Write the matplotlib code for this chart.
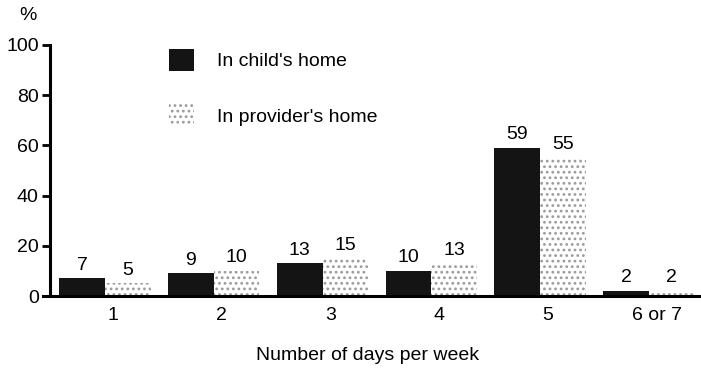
import numpy as np
import matplotlib.pyplot as plt
from matplotlib.patches import Patch

plt.rcParams['font.family'] = ['Liberation Sans', 'DejaVu Sans']
plt.rcParams['hatch.linewidth'] = 1.2

categories = ['1', '2', '3', '4', '5', '6 or 7']
childs_home = [7, 9, 13, 10, 59, 2]
providers_home = [5, 10, 15, 13, 55, 2]

fig = plt.figure(figsize=(7.01, 3.73), dpi=100)
ax = fig.add_axes([0.0713, 0.2064, 0.9273, 0.673])

x = np.arange(len(categories))
w = 0.42
ax.bar(x - w / 2, childs_home, w, color='#141414', edgecolor='#141414', lw=0)
ax.bar(x + w / 2, providers_home, w, color='white', edgecolor='#9a9a9a',
       hatch='...', lw=0)

# value labels above each bar
for xi, v in zip(x - w / 2, childs_home):
    ax.text(xi, v + 1.8, str(v), ha='center', va='bottom', fontsize=14)
for xi, v in zip(x + w / 2, providers_home):
    ax.text(xi, v + 1.8, str(v), ha='center', va='bottom', fontsize=14)

ax.set_xlim(-0.506, 5.47)
ax.set_ylim(0, 100)
ax.set_yticks([0, 20, 40, 60, 80, 100])
ax.set_xticks(x + 0.07)
ax.set_xticklabels(categories)
ax.tick_params(axis='y', direction='out', length=6, width=2, labelsize=14, pad=2)
ax.tick_params(axis='x', length=0, labelsize=14, pad=8)

for s in ['top', 'right']:
    ax.spines[s].set_visible(False)
ax.spines['left'].set_linewidth(2.2)
ax.spines['bottom'].set_linewidth(2.2)
ax.spines['bottom'].set_bounds(-0.57, 5.47)

fig.text(28 / 701, 1 - 15 / 373, '%', ha='center', va='center', fontsize=14)
fig.text(368 / 701, 1 - 355 / 373, 'Number of days per week', ha='center',
         va='center', fontsize=14)

handles = [Patch(facecolor='#141414', edgecolor='#141414', lw=0),
           Patch(facecolor='white', edgecolor='#9a9a9a', hatch='...', lw=0)]
fig.legend(handles, ["In child's home", "In provider's home"], frameon=False,
           loc='upper left', bbox_to_anchor=(151 / 701, 1 - 31 / 373),
           fontsize=14, handlelength=1.3, handleheight=1.4,
           labelspacing=1.7, handletextpad=1.2)

fig.savefig('out.png', dpi=100)
